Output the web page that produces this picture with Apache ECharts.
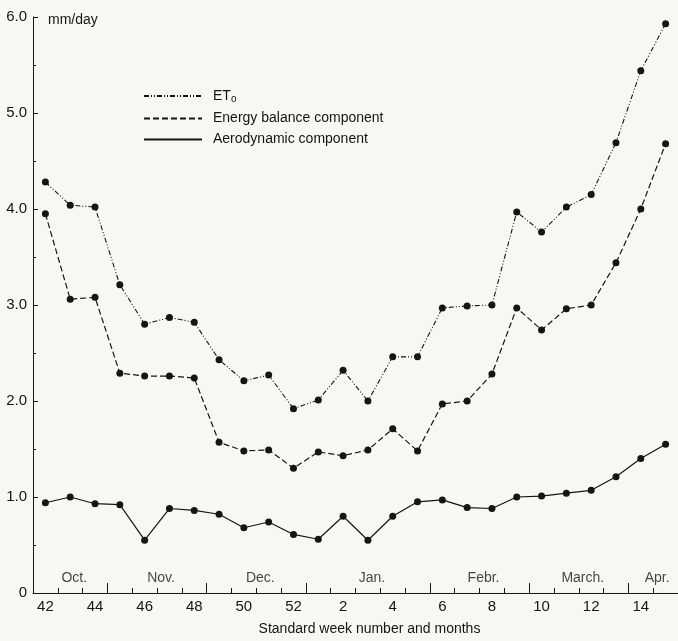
<!DOCTYPE html>
<html><head><meta charset="utf-8">
<script src="https://cdn.jsdelivr.net/npm/echarts@6/dist/echarts.min.js"></script>
<style>html,body{margin:0;padding:0;background:#f8f7f2}#c{width:678px;height:641px}</style>
</head><body><div id="c"></div>
<script>
// ---- data ----
const weeks = ['42','43','44','45','46','47','48','49','50','51','52','1','2','3','4','5','6','7','8','9','10','11','12','13','14','15'];
const et0 = [4.28, 4.04, 4.02, 3.21, 2.80, 2.87, 2.82, 2.43, 2.21, 2.27, 1.92, 2.01, 2.32, 2.00, 2.46, 2.46, 2.97, 2.99, 3.00, 3.97, 3.76, 4.02, 4.15, 4.69, 5.44, 5.93];
const energyBalance = [3.95, 3.06, 3.08, 2.29, 2.26, 2.26, 2.24, 1.57, 1.48, 1.49, 1.30, 1.47, 1.43, 1.49, 1.71, 1.48, 1.97, 2.00, 2.28, 2.97, 2.74, 2.96, 3.00, 3.44, 4.00, 4.68];
const aerodynamic = [0.94, 1.00, 0.93, 0.92, 0.55, 0.88, 0.86, 0.82, 0.68, 0.74, 0.61, 0.56, 0.80, 0.55, 0.80, 0.95, 0.97, 0.89, 0.88, 1.00, 1.01, 1.04, 1.07, 1.21, 1.40, 1.55];
const monthNames = ['Oct.', 'Nov.', 'Dec.', 'Jan.', 'Febr.', 'March.', 'Apr.'];
const monthFirstWeek = ['42', '45', '49', '1', '6', '10', '14'];
const seriesNames = ['ET0', 'Energy balance component', 'Aerodynamic component'];
const yMin = 0, yMax = 6, yInterval = 1;

// ---- derived ----
const monthStartIdx = monthFirstWeek.map(w => weeks.indexOf(w));
const monthCenters = monthStartIdx.map((s, i) => {
  const e = i < monthStartIdx.length - 1 ? monthStartIdx[i + 1] - 1 : weeks.length - 1;
  return (s + e) / 2;
});
const monthData = monthNames.map((n, i) => ({ name: n, value: [monthCenters[i], 0] }));
const monthBoundarySet = new Set(monthStartIdx.slice(1));

const FONT = 'Liberation Sans, Arial, sans-serif';
const INK = '#151515';
const chart = echarts.init(document.getElementById('c'));
chart.setOption({
  backgroundColor: '#f8f7f2',
  animation: false,
  textStyle: { fontFamily: FONT, color: INK },
  grid: { left: 33, top: 17, width: 646, bottom: 42 },
  legend: {
    orient: 'vertical', left: 138, top: 84,
    itemWidth: 58, itemHeight: 14, itemGap: 7,
    itemStyle: { opacity: 0 },
    textStyle: { fontFamily: FONT, fontSize: 14, color: INK, padding: [0, 0, 0, 6],
      rich: { a: { fontSize: 14, fontFamily: FONT, color: INK }, s: { fontSize: 10, fontFamily: FONT, color: INK, padding: [7, 0, 0, 0] } } },
    formatter: n => n === 'ET0' ? '{a|ET}{s|o}' : n,
    data: seriesNames
  },
  xAxis: [
    {
      type: 'category', data: weeks, boundaryGap: true, position: 'bottom',
      name: 'Standard week number and months', nameLocation: 'middle', nameGap: 29,
      nameTextStyle: { fontSize: 14, color: INK, padding: [0, 0, 0, 28] },
      axisLine: { onZero: false, lineStyle: { color: INK, width: 1 } },
      axisTick: { show: true, interval: 0, length: 5, inside: true, lineStyle: { color: INK } },
      axisLabel: { interval: 1, fontSize: 15, color: INK, margin: 6 },
      splitLine: { show: false }
    },
    {
      type: 'category', data: weeks, boundaryGap: true, position: 'bottom', offset: 0,
      axisLine: { show: false, onZero: false },
      axisTick: { show: true, inside: true, length: 10, lineStyle: { color: INK },
        interval: (idx) => monthBoundarySet.has(idx) },
      axisLabel: { show: false }, splitLine: { show: false }
    },
    { type: 'value', show: false, min: -0.5, max: weeks.length - 0.5, axisLine: { onZero: false } }
  ],
  yAxis: {
    type: 'value', min: yMin, max: yMax, interval: yInterval,
    name: 'mm/day', nameLocation: 'end', nameGap: -3,
    nameTextStyle: { fontSize: 14, color: INK, align: 'left', verticalAlign: 'middle', padding: [0, 0, 0, 15] },
    axisLine: { show: true, onZero: false, lineStyle: { color: INK, width: 1 } },
    axisTick: { show: true, inside: true, length: 5, lineStyle: { color: INK } },
    minorTick: { show: true, splitNumber: 2, length: 3, lineStyle: { color: INK } },
    axisLabel: { fontSize: 15, color: INK, margin: 6, formatter: v => v === 0 ? '0' : v.toFixed(1) },
    splitLine: { show: false }, minorSplitLine: { show: false }
  },
  series: [
    { name: seriesNames[0], type: 'line', data: et0, symbol: 'circle', symbolSize: 7,
      itemStyle: { color: INK }, lineStyle: { color: INK, width: 1.1, type: [5, 2, 1, 2, 1, 2] } },
    { name: seriesNames[1], type: 'line', data: energyBalance, symbol: 'circle', symbolSize: 7,
      itemStyle: { color: INK }, lineStyle: { color: INK, width: 1.2, type: [6, 3] } },
    { name: seriesNames[2], type: 'line', data: aerodynamic, symbol: 'circle', symbolSize: 7,
      itemStyle: { color: INK }, lineStyle: { color: INK, width: 1.2, type: 'solid' } },
    { name: 'months', type: 'scatter', xAxisIndex: 2, data: monthData, symbolSize: 0, silent: true,
      label: { show: true, position: 'top', distance: 8, offset: [4, 0], fontSize: 14, color: INK,
        fontFamily: FONT, formatter: p => p.name } }
  ]
});
</script>
</body></html>
